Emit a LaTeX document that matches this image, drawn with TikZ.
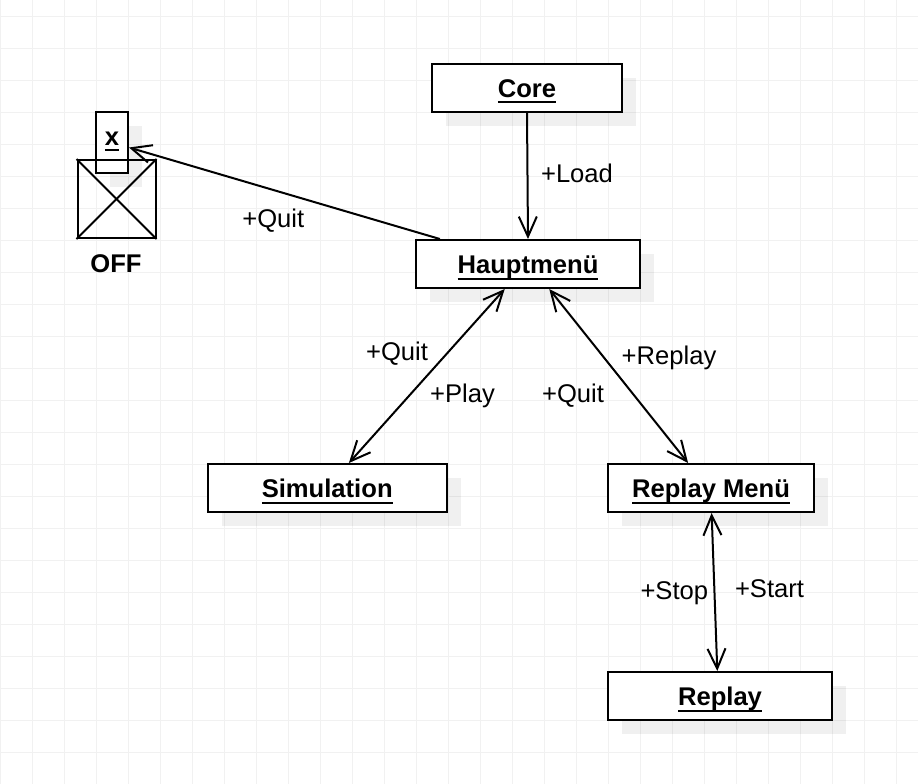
\documentclass[tikz,border=0pt]{standalone}
\usepackage{fontspec}
\setmainfont{Liberation Sans}
\usetikzlibrary{arrows.meta,calc,shadows}
\definecolor{gridgray}{HTML}{F1F1F1}
\newcommand\ulbox[1]{\setbox0=\hbox{#1}\rlap{\rule[-6pt]{\wd0}{2pt}}\box0}
\tikzset{
  umlbox/.style={draw=black, line width=2pt, fill=white, inner sep=0pt,
    text height=19pt, text depth=0pt,
    font=\fontsize{25.6}{30}\selectfont\bfseries,
    drop shadow={shadow xshift=14pt, shadow yshift=-14pt, fill=black, opacity=0.06}},
  lbl/.style={anchor=base, inner sep=0pt, font=\fontsize{25.6}{30}\selectfont},
  boldlbl/.style={lbl, font=\fontsize{25.6}{30}\selectfont\bfseries},
  barb/.tip={Straight Barb[length=20pt, width=18pt]},
  conn/.style={draw=black, line width=2pt},
}
\begin{document}
\begin{tikzpicture}[x=1pt, y=-1pt]
\useasboundingbox (0,0) rectangle (918,784);
\fill[white] (0,0) rectangle (918,784);
% grid
\foreach \gx in {0.5,32.5,...,918} \draw[gridgray, line width=1pt] (\gx,0) -- (\gx,784);
\foreach \gy in {16.5,48.5,...,784} \draw[gridgray, line width=1pt] (0,\gy) -- (918,\gy);

% boxes
\node[umlbox, minimum width=190pt, minimum height=48pt] (core) at (527,88) {\ulbox{Core}};
\node[umlbox, minimum width=224pt, minimum height=48pt] (hm) at (528,264) {\ulbox{Hauptmenü}};
\node[umlbox, minimum width=239pt, minimum height=48pt] (sim) at (327.2,488) {\ulbox{Simulation}};
\node[umlbox, minimum width=206pt, minimum height=48pt] (rm) at (711,488) {\ulbox{Replay Menü}};
\node[umlbox, minimum width=224pt, minimum height=48pt] (rep) at (720,696) {\ulbox{Replay}};

% OFF element
\node[umlbox, minimum width=32pt, minimum height=61pt] (xb) at (112,142.5) {};
\node[boldlbl] (xlbl) at (112,145) {\ulbox{x}};
\node[draw=black, line width=2pt, minimum width=78pt, minimum height=78pt, inner sep=0pt] (off) at (116.5,199) {};
\draw[conn] (off.north west) -- (off.south east);
\draw[conn] (off.north east) -- (off.south west);
\node[boldlbl] (offlbl) at (116,272) {OFF};

% connectors
\draw[conn, -barb] (core.south) -- (hm.north);
\draw[conn, -barb] ($(hm.north west)!0.11!(hm.north east)$) -- ($(xb.east)+(0,5)$);
\draw[conn, barb-barb] ($(hm.south west)!0.397!(hm.south east)$) -- ($(sim.north west)!0.59!(sim.north east)$);
\draw[conn, barb-barb] ($(hm.south west)!0.594!(hm.south east)$) -- ($(rm.north west)!0.39!(rm.north east)$);
\draw[conn, barb-barb] ($(rm.south west)!0.503!(rm.south east)$) -- ($(rep.north west)!0.488!(rep.north east)$);

% labels
\node[lbl] (lload) at (577,182) {+Load};
\node[lbl] (lquit1) at (273.3,227.3) {+Quit};
\node[lbl] (lquit2) at (397,360) {+Quit};
\node[lbl] (lplay) at (462.5,402) {+Play};
\node[lbl] (lquit3) at (573,402) {+Quit};
\node[lbl] (lreplay) at (669,364) {+Replay};
\node[lbl] (lstop) at (674.3,599.3) {+Stop};
\node[lbl] (lstart) at (769.5,597.7) {+Start};
\end{tikzpicture}
\end{document}
